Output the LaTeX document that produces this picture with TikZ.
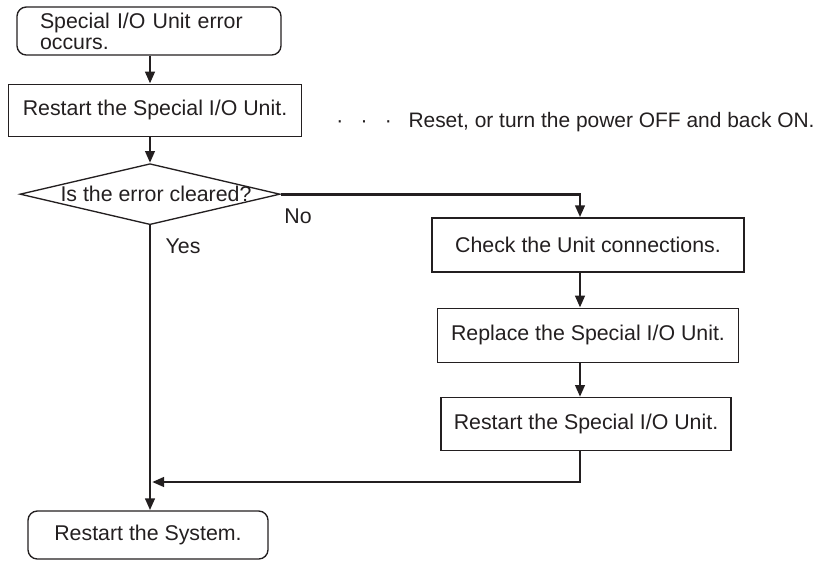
\documentclass[tikz,border=0pt]{standalone}
\usepackage{fontspec}
\setmainfont{Liberation Sans}
\usetikzlibrary{shapes.geometric,arrows.meta,positioning}
\definecolor{inkclr}{RGB}{35,31,32}
\tikzset{
  %% rounded start / end block
  tblk/.style={rectangle,rounded corners=7pt,draw=inkclr,line width=1pt,
    minimum height=36pt,font=\fontsize{16}{15.8}\selectfont,text=inkclr,inner sep=3pt},
  %% process block
  pblk/.style={rectangle,draw=inkclr,line width=1pt,minimum height=39pt,
    font=\fontsize{16}{15.8}\selectfont,text=inkclr,inner sep=3pt},
  %% decision diamond
  decblk/.style={diamond,draw=inkclr,line width=1pt,inner sep=0pt,
    minimum width=195pt,minimum height=45.75pt},
  %% arrows
  arr/.style={-{Triangle[length=9pt,width=7pt]},line width=2.2pt,color=inkclr},
  lbl/.style={font=\fontsize{16}{16}\selectfont,text=inkclr,inner sep=0pt},
}
\begin{document}
\begin{tikzpicture}[x=0.75pt,y=-0.75pt,node distance=21pt]
  \useasboundingbox (0,0) rectangle (820,561);
  \node[tblk,text width=163.5pt,inner xsep=17.25pt,align=left] (err) at (149,31) {Special I/O Unit error\\occurs.};
  \node[pblk,minimum width=219.75pt,below=21pt of err,xshift=4.5pt] (rst) {Restart the Special I/O Unit.};
  \node[lbl,font=\fontsize{15.7}{16}\selectfont,anchor=base west] (note) at (336,127) {·\hspace{13pt}·\hspace{13pt}·\hspace{12.5pt}Reset, or turn the power OFF and back ON.};
  \node[decblk,below=19.5pt of rst,xshift=-3.75pt] (clr) {};
  \node[lbl,xshift=4.5pt] (clrtxt) at (clr.center) {Is the error cleared?};
  \node[lbl] (no)  at (298,216) {No};
  \node[lbl] (yes) at (183,246) {Yes};

  \node[pblk,minimum width=234pt,minimum height=40.5pt] (conn) at (588,245) {Check the Unit connections.};
  \node[pblk,minimum width=225.75pt,minimum height=40.5pt,below=26.25pt of conn] (repl) {Replace the Special I/O Unit.};
  \node[pblk,minimum width=217.5pt,minimum height=39.75pt,below=25.5pt of repl,xshift=-1.5pt] (rst2) {Restart the Special I/O Unit.};
  \node[tblk,minimum width=180pt] (sys) at (148,535) {Restart the System.};

  \coordinate (col)  at (580,192);
  \coordinate (join) at (152,482);

  \draw[arr] (err.south -| clr) -- (rst.north -| clr);
  \draw[arr] (rst.south -| clr) -- (clr.north);
  \draw[arr] (clr.south) -- (sys.north -| clr);
  \draw[arr] (clr.east) -| (conn.north -| col);
  \draw[arr] (conn.south -| col) -- (repl.north -| col);
  \draw[arr] (repl.south -| col) -- (rst2.north -| col);
  \draw[arr] (rst2.south -| col) |- (join);
\end{tikzpicture}
\end{document}
